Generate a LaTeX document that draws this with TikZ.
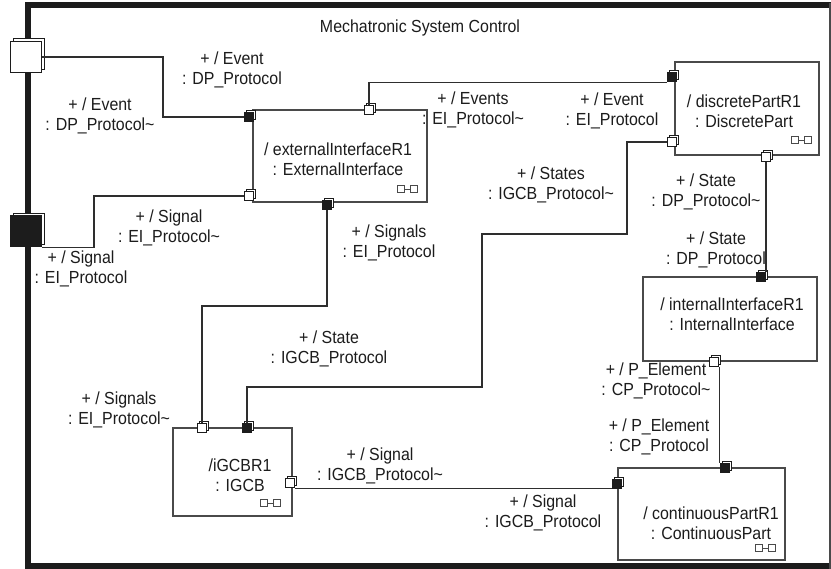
\documentclass[tikz,border=0pt]{standalone}
\usepackage{fontspec}
\setmainfont{Liberation Sans}[FakeStretch=0.91]
\usetikzlibrary{shadows}
\definecolor{ink}{HTML}{1C1C1C}
\definecolor{wire}{HTML}{2E2E2E}
\definecolor{edge}{HTML}{4A4A4A}
\begin{document}
\begin{tikzpicture}[x=1pt,y=-1pt,
  lbl/.style={align=center,inner sep=0pt,font=\fontsize{17.5}{20}\selectfont,text=ink},
  partbox/.style={draw=edge,line width=1.4pt,fill=white,inner sep=0pt},
  wire/.style={draw=wire,line width=1.2pt},
  oport/.style={draw=ink,fill=white,line width=1pt,minimum size=9.5pt,inner sep=0pt,
    copy shadow={shadow xshift=2pt,shadow yshift=2pt,fill=white,draw=ink,line width=0.8pt}},
  fport/.style={oport,fill=ink},
  bigport/.style={draw=ink,fill=white,line width=1pt,minimum size=31pt,inner sep=0pt,
    copy shadow={shadow xshift=3pt,shadow yshift=3pt,fill=white,draw=ink,line width=0.8pt}},
  icon/.pic={
    \draw[edge,line width=0.8pt,fill=white] (-10,-3.5) rectangle (-3,3.5);
    \draw[edge,line width=0.8pt,fill=white] (3,-3.5) rectangle (10,3.5);
    \draw[edge,line width=0.8pt] (-3,0) -- (3,0);
  }
]
\useasboundingbox (0,0) rectangle (831,569);
\fill[white] (0,0) rectangle (831,569);

% frame
\draw[ink,line width=6pt] (831,5.5) -- (28,5.5) -- (28,566) -- (831,566);
\draw[edge,line width=2pt] (829.5,3) -- (829.5,569);
\node[lbl] (title) at (420,28) {Mechatronic System Control};

% parts
\node[partbox,minimum width=174pt,minimum height=92pt] (ext) at (340,156) {};
\node[partbox,minimum width=144pt,minimum height=93pt] (dp) at (747,108.5) {};
\node[partbox,minimum width=174pt,minimum height=84pt] (ii) at (730,319) {};
\node[partbox,minimum width=119pt,minimum height=88pt] (ig) at (232.5,472) {};
\node[partbox,minimum width=167pt,minimum height=92pt] (cp) at (701.5,514) {};

\node[lbl] (extT) at (338,159) {/ externalInterfaceR1\\: ExternalInterface};
\node[lbl] (dpT) at (744,111) {/ discretePartR1\\: DiscretePart};
\node[lbl] (iiT) at (732,314) {/ internalInterfaceR1\\: InternalInterface};
\node[lbl] (igT) at (240,475) {/iGCBR1\\: IGCB};
\node[lbl] (cpT) at (711,523) {/ continuousPartR1\\: ContinuousPart};

\pic at (407,189) {icon};
\pic at (801,140) {icon};
\pic at (270,503) {icon};
\pic at (765,548) {icon};

% ports
\node[bigport] (fp1) at (25.5,57) {};
\node[bigport,fill=ink] (fp2) at (26,231.5) {};
\node[fport] (eL) at (249,117) {};
\node[oport] (eT) at (369,110) {};
\node[oport] (eB) at (249,196) {};
\node[fport] (eD) at (327,205) {};
\node[fport] (dL) at (672,77) {};
\node[oport] (dW) at (672,142) {};
\node[oport] (dB) at (766,157) {};
\node[fport] (iT) at (761,277) {};
\node[oport] (iB) at (714,362) {};
\node[fport] (cT) at (725,468) {};
\node[oport] (gL) at (202,428) {};
\node[fport] (gF) at (247,428) {};
\node[oport] (gR) at (290,483) {};
\node[fport] (cL) at (617,484) {};

% connectors
\coordinate (k1) at (163,0);
\coordinate (k2) at (94,0);
\coordinate (k3) at (0,306);
\coordinate (w1) at (482,387);
\coordinate (w2) at (627,234);
\draw[wire] (fp1.east) -- (fp1.east -| k1) -- (k1 |- eL.west) -- (eL.west);
\draw[wire] (fp2.south east) -- (fp2.south east -| k2) -- (k2 |- eB.west) -- (eB.west);
\draw[wire] (eT.north) |- (dL.south west);
\draw[wire] (eD.south) -- (eD.south |- k3) -- (gL.north |- k3) -- (gL.north);
\draw[wire] (gF.north) |- (w1) |- (w2) |- (dW.west);
\draw[wire] (dB.south) -- (dB.south |- iT.north);
\draw[wire] (iB.south east) -- (iB.south east |- cT.north);
\draw[wire] (gR.south east) -- (gR.south east -| cL.west);

% labels
\node[lbl] (l1) at (232,70) {+ / Event\\: DP\_Protocol};
\node[lbl] (l2) at (100,116) {+ / Event\\: DP\_Protocol\textasciitilde};
\node[lbl] (l3) at (473,110) {+ / Events\\: EI\_Protocol\textasciitilde};
\node[lbl] (l4) at (612,111) {+ / Event\\: EI\_Protocol};
\node[lbl] (l5) at (551,185) {+ / States\\: IGCB\_Protocol\textasciitilde};
\node[lbl] (l6) at (706,192) {+ / State\\: DP\_Protocol\textasciitilde};
\node[lbl] (l7) at (716,250) {+ / State\\: DP\_Protocol};
\node[lbl] (l8) at (169,228) {+ / Signal\\: EI\_Protocol\textasciitilde};
\node[lbl] (l9) at (81,269) {+ / Signal\\: EI\_Protocol};
\node[lbl] (l10) at (389,243) {+ / Signals\\: EI\_Protocol};
\node[lbl] (l11) at (329,349) {+ / State\\: IGCB\_Protocol};
\node[lbl] (l12) at (119,410) {+ / Signals\\: EI\_Protocol\textasciitilde};
\node[lbl] (l13) at (380,466) {+ / Signal\\: IGCB\_Protocol\textasciitilde};
\node[lbl] (l14) at (543,513) {+ / Signal\\: IGCB\_Protocol};
\node[lbl] (l15) at (656,381) {+ / P\_Element\\: CP\_Protocol\textasciitilde};
\node[lbl] (l16) at (659,437) {+ / P\_Element\\: CP\_Protocol};
\end{tikzpicture}
\end{document}
